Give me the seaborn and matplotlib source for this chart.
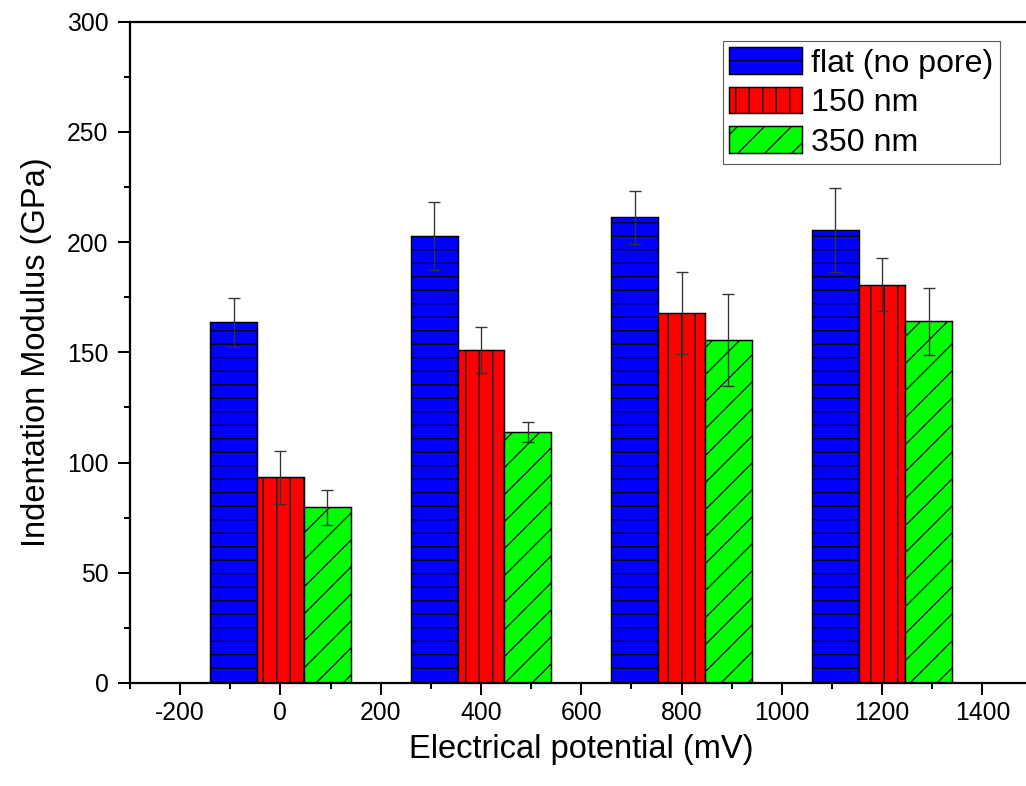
import numpy as np
import pandas as pd
import matplotlib
matplotlib.use("Agg")
import matplotlib.pyplot as plt
from matplotlib.patches import Patch
from matplotlib.container import BarContainer
from matplotlib.ticker import MultipleLocator
import seaborn as sns

# ---- data ----
potentials = [0, 400, 800, 1200]
series = ["flat (no pore)", "150 nm", "350 nm"]
flat_vals = [163.6, 202.8, 211.3, 205.5]
flat_err = [11.0, 15.6, 12.0, 19.0]
nm150_vals = [93.3, 151.1, 167.9, 180.6]
nm150_err = [12.0, 10.5, 18.5, 12.0]
nm350_vals = [79.7, 113.9, 155.6, 164.0]
nm350_err = [8.0, 4.5, 21.0, 15.0]

colors = ["#0000FF", "#FF0000", "#00FF00"]
hatches = ["-", "|", "/"]

df = pd.DataFrame({
    "potential": potentials * 3,
    "series": [s for s in series for _ in potentials],
    "value": flat_vals + nm150_vals + nm350_vals,
})
errs = [flat_err, nm150_err, nm350_err]

sns.set_style("white")
plt.rcParams["font.family"] = ["Liberation Sans", "DejaVu Sans"]
plt.rcParams["hatch.linewidth"] = 1.1
plt.rcParams["hatch.color"] = "black"
plt.rcParams["axes.unicode_minus"] = False
plt.rcParams["text.color"] = "black"
plt.rcParams["axes.labelcolor"] = "black"

DPI = 81
fig = plt.figure(figsize=(1026 / DPI, 786 / DPI), dpi=DPI)
ax = fig.add_axes([130 / 1026, 1 - 683 / 786, 902.5 / 1026, (683 - 21.7) / 786])

sns.barplot(data=df, x="potential", y="value", hue="series", hue_order=series,
            palette=colors, native_scale=True, width=0.7, errorbar=None,
            edgecolor="black", linewidth=1.3, saturation=1, ax=ax, legend=False)

bar_conts = [c for c in ax.containers if isinstance(c, BarContainer)]
for i, cont in enumerate(bar_conts):
    for j, p in enumerate(cont.patches):
        p.set_hatch(hatches[i])
        p.set_edgecolor("black")
        xc = p.get_x() + p.get_width() / 2
        ax.errorbar(xc, p.get_height(), yerr=errs[i][j], fmt="none",
                    ecolor="#333333", elinewidth=1.2, capsize=5.6,
                    capthick=1.2, zorder=5)

ax.set_xlim(-300, 1500)
ax.set_ylim(0, 300)
ax.xaxis.set_major_locator(MultipleLocator(200))
ax.xaxis.set_minor_locator(MultipleLocator(100))
ax.yaxis.set_major_locator(MultipleLocator(50))
ax.yaxis.set_minor_locator(MultipleLocator(25))
ax.tick_params(axis="both", which="major", direction="out", length=11, width=1.8,
               labelsize=22, color="black", labelcolor="black")
ax.tick_params(axis="both", which="minor", direction="out", length=5, width=1.8,
               color="black")
ax.tick_params(axis="x", which="both", bottom=True, top=False, pad=5)
ax.tick_params(axis="y", which="both", left=True, right=False, pad=8)
for s in ax.spines.values():
    s.set_linewidth(2)
    s.set_color("black")

ax.set_xlabel("Electrical potential (mV)", fontsize=29, labelpad=8, color="black")
ax.set_ylabel("Indentation Modulus (GPa)", fontsize=29, labelpad=13, color="black")

handles = [Patch(facecolor=c, edgecolor="black", hatch=h, linewidth=1.3)
           for c, h in zip(colors, hatches)]
leg = fig.legend(handles, series, loc="upper left",
                 bbox_to_anchor=(723 / 1026, 1 - 41 / 786),
                 bbox_transform=fig.transFigure, borderaxespad=0,
                 fontsize=28.5, frameon=True, fancybox=False,
                 handlelength=2.25, handleheight=0.9, handletextpad=0.3,
                 labelspacing=0.25, borderpad=0.2)
for t in leg.get_texts():
    t.set_color("black")
leg.get_frame().set_edgecolor("#333333")
leg.get_frame().set_linewidth(1.0)

fig.savefig("out.png", dpi=DPI)
